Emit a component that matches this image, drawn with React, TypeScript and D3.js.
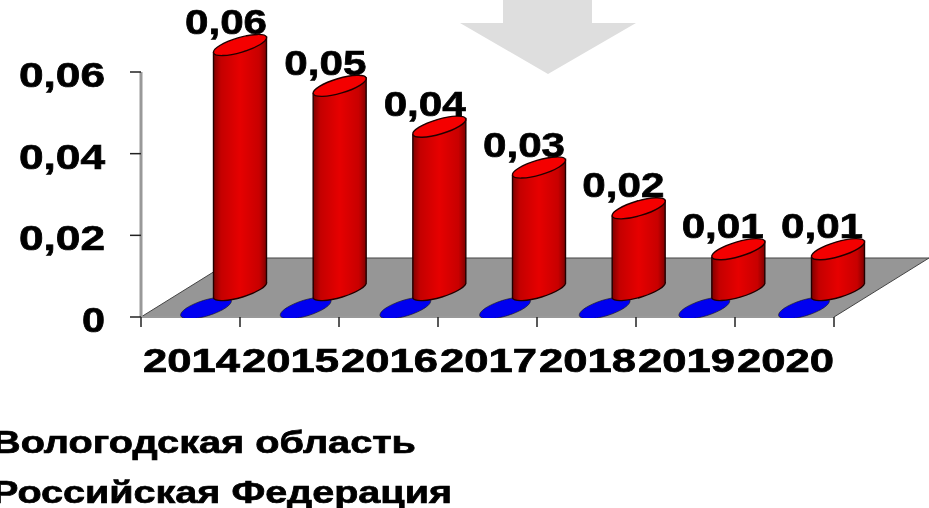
import * as d3 from "d3";

const years = ["2014", "2015", "2016", "2017", "2018", "2019", "2020"];
const regionValues = [0.06, 0.05, 0.04, 0.03, 0.02, 0.01, 0.01];
const regionLabels = ["0,06", "0,05", "0,04", "0,03", "0,02", "0,01", "0,01"];
const federationValues = [0, 0, 0, 0, 0, 0, 0];
const yTicks = [0, 0.02, 0.04, 0.06];
const yTickLabels = ["0", "0,02", "0,04", "0,06"];
const legendLabels = ["Вологодская область", "Российская Федерация"];

const font = "'Liberation Sans', Arial, sans-serif";

export default function App() {
    const x = d3.scaleBand().domain(years).range([141, 834]);
    const y = d3.scaleLinear().domain([0, 0.06]).range([317, 72]);
    // the 3d marks are spaced a touch wider than the axis ticks
    const xCyl = d3.scalePoint().domain(years).range([240, 838]);
    const xDisc = d3.scalePoint().domain(years).range([206, 804]);
    const xLabel = d3.scalePoint().domain(years).range([226, 822]);
    const band = x.bandwidth();
    const left = x.range()[0];
    const right = x.range()[1];

    // Depth of the 3d floor
    const depthX = 95;
    const depthY = 59;

    // Half of the tilted ellipse, in px
    const dx = 26.5;
    const dy = 8;
    const rx = 27.6;
    const ry = 7.4;
    const tilt = -16.5;

    const textStroke = { stroke: "#000", strokeWidth: 0.7 };

    return (
        <svg
            width={929}
            height={508}
            style={{ position: "fixed", left: 0, top: 0, background: "#fff" }}
            fontFamily={font}
            fontWeight="bold"
        >
            <defs>
                <linearGradient id="cyl" x1="0" x2="1" y1="0" y2="0">
                    <stop offset="0" stopColor="#800000" />
                    <stop offset="0.14" stopColor="#c40000" />
                    <stop offset="0.5" stopColor="#e60000" />
                    <stop offset="0.86" stopColor="#c80000" />
                    <stop offset="1" stopColor="#800000" />
                </linearGradient>
                <filter id="soft" x="-5%" y="-5%" width="110%" height="110%">
                    <feGaussianBlur stdDeviation="0.45" />
                </filter>
                <clipPath id="floorClip">
                    <rect x={0} y={0} width={929} height={y(0) + 1} />
                </clipPath>
            </defs>

            {/* Arrow on top */}
            <polygon
                points="460,23 503,23 503,0 592,0 592,23 636,23 548,74"
                fill="#dedede"
            />

            <g filter="url(#soft)">
                {/* Floor */}
                <polygon
                    points={[
                        [left, y(0)],
                        [right, y(0)],
                        [right + depthX, y(0) - depthY],
                        [left + depthX, y(0) - depthY],
                    ].join(" ")}
                    fill="#969696"
                    stroke="#444"
                    strokeWidth={1}
                />

                {/* Axes */}
                <line x1={left} x2={left} y1={y(0.06)} y2={y(0)} stroke="#999" strokeWidth={3} />
                <line x1={left} x2={right} y1={y(0)} y2={y(0)} stroke="#999" strokeWidth={2} />
                {yTicks.map((t) => (
                    <line key={t} x1={130} x2={left} y1={y(t)} y2={y(t)} stroke="#222" strokeWidth={1.5} />
                ))}
                {d3.range(years.length + 1).map((i) => (
                    <line
                        key={i}
                        x1={left + i * band}
                        x2={left + i * band}
                        y1={y(0)}
                        y2={y(0) + 10}
                        stroke="#222"
                        strokeWidth={1.5}
                    />
                ))}

                {/* Federation series, flat discs on the floor */}
                <g clipPath="url(#floorClip)">
                    {years.map((yr, i) => (
                        <ellipse
                            key={yr}
                            cx={xDisc(yr)!}
                            cy={y(federationValues[i]) - 9}
                            rx={26.5}
                            ry={8}
                            transform={`rotate(-17 ${xDisc(yr)!} ${y(federationValues[i]) - 9})`}
                            fill="#0000f0"
                            stroke="#222"
                            strokeWidth={0.6}
                        />
                    ))}
                </g>

                {/* Region series, cylinders */}
                {years.map((yr, i) => {
                    const cx = xCyl(yr)!;
                    const base = y(0) - 27;
                    const top = y(regionValues[i]) - 27;
                    const d = [
                        `M${cx - dx},${top + dy}`,
                        `L${cx - dx},${base + dy}`,
                        `A${rx},${ry} ${tilt} 0 0 ${cx + dx},${base - dy}`,
                        `L${cx + dx},${top - dy}`,
                        "Z",
                    ].join(" ");
                    return (
                        <g key={yr}>
                            <path d={d} fill="url(#cyl)" stroke="#200" strokeWidth={1.4} />
                            <ellipse
                                cx={cx}
                                cy={top}
                                rx={rx}
                                ry={ry}
                                transform={`rotate(${tilt} ${cx} ${top})`}
                                fill="#f40000"
                                stroke="#200"
                                strokeWidth={1.4}
                            />
                        </g>
                    );
                })}

                {/* Value labels */}
                {years.map((yr, i) => (
                    <text
                        key={yr}
                        x={xLabel(yr)!}
                        y={y(regionValues[i]) - 38}
                        fontSize={35}
                        textAnchor="middle"
                        textLength={82}
                        lengthAdjust="spacingAndGlyphs"
                        {...textStroke}
                    >
                        {regionLabels[i]}
                    </text>
                ))}

                {/* Tick labels */}
                {yTicks.map((t, i) => (
                    <text
                        key={t}
                        x={105}
                        y={y(t) + 15}
                        fontSize={35}
                        textAnchor="end"
                        textLength={i === 0 ? 23 : 86}
                        lengthAdjust="spacingAndGlyphs"
                        {...textStroke}
                    >
                        {yTickLabels[i]}
                    </text>
                ))}
                {years.map((yr) => (
                    <text
                        key={yr}
                        x={x(yr)! + band / 2 + 1}
                        y={372}
                        fontSize={33}
                        textAnchor="middle"
                        textLength={97}
                        lengthAdjust="spacingAndGlyphs"
                        {...textStroke}
                    >
                        {yr}
                    </text>
                ))}

                {/* Legend, cut off at the left edge like the source */}
                {legendLabels.map((label, i) => (
                    <text
                        key={label}
                        x={-8}
                        y={453 + i * 50}
                        fontSize={32}
                        textLength={i === 0 ? 424 : 460}
                        lengthAdjust="spacingAndGlyphs"
                        {...textStroke}
                    >
                        {label}
                    </text>
                ))}
            </g>
        </svg>
    );
}
